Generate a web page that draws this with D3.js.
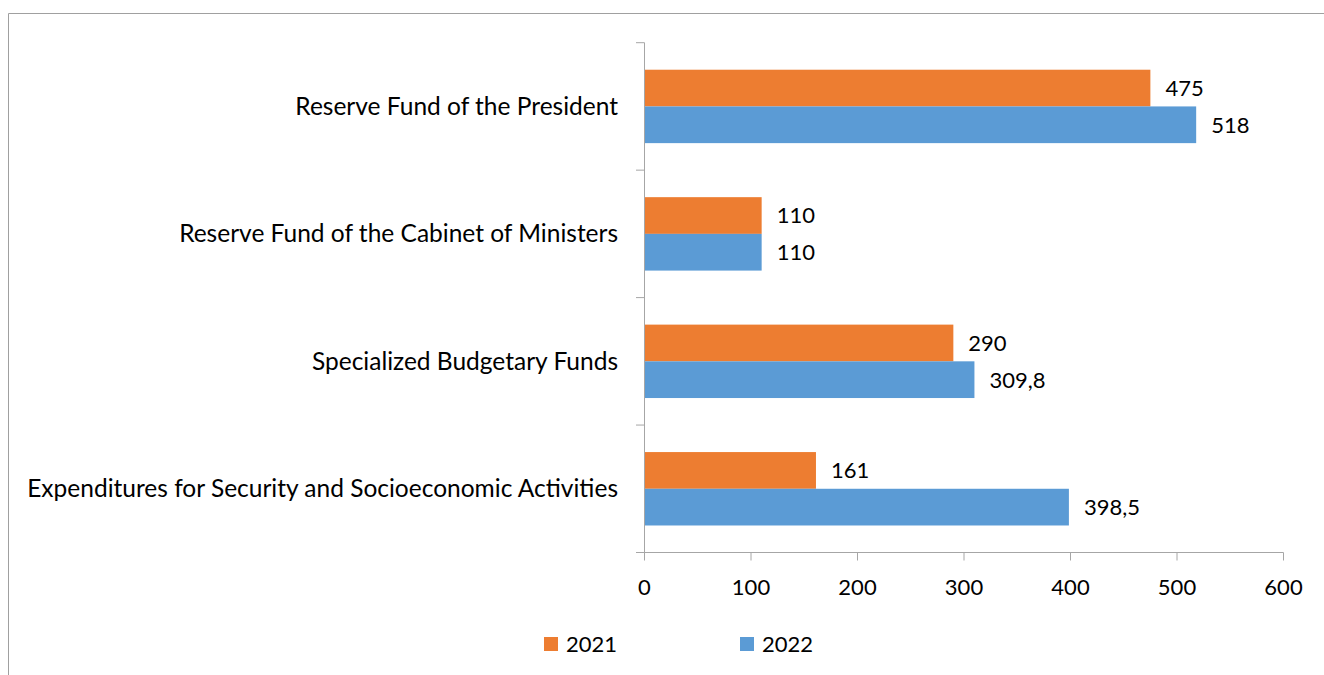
<!DOCTYPE html>
<html>
<head>
<meta charset="utf-8">
<script src="https://cdn.jsdelivr.net/npm/d3@7"></script>
<style>
  html, body { margin: 0; padding: 0; background: #fff; }
  svg { display: block; }
  text { font-family: Lato, "Open Sans", sans-serif; fill: #000; }
</style>
</head>
<body>
<svg id="chart" width="1324" height="675"></svg>
<script>
// Budget reserve items, 2021 vs 2022
const categories = [
  "Reserve Fund of the President",
  "Reserve Fund of the Cabinet of Ministers",
  "Specialized Budgetary Funds",
  "Expenditures for Security and Socioeconomic Activities"
];
const seriesNames = ["2021", "2022"];
const values2021 = [475, 110, 290, 161];
const values2022 = [518, 110, 309.8, 398.5];
const xTicks = [0, 100, 200, 300, 400, 500, 600];
const colors = { "2021": "#ED7D31", "2022": "#5B9BD5" };

const rows = categories.map((c, i) => ({
  category: c,
  values: [
    { series: "2021", value: values2021[i] },
    { series: "2022", value: values2022[i] }
  ]
}));

const svg = d3.select("#chart");
const numSize = 22;
const labelSize = 24.5;
const axisColor = "#a6a6a6";

const locale = d3.formatLocale({ decimal: ",", thousands: " ", grouping: [3], currency: ["", ""] });
const fmt = locale.format("~f");

// Outer frame (top and left edges visible)
svg.append("line").attr("x1", 8.5).attr("x2", 1324).attr("y1", 13.5).attr("y2", 13.5)
  .attr("stroke", "#a0a0a0").attr("stroke-width", 1);
svg.append("line").attr("x1", 8.5).attr("x2", 8.5).attr("y1", 13.5).attr("y2", 675)
  .attr("stroke", "#a0a0a0").attr("stroke-width", 1);

const plot = { left: 644.5, right: 1283.5, top: 42.7, bottom: 552.5 };

const x = d3.scaleLinear().domain([0, 600]).range([plot.left, plot.right]);
const y = d3.scaleBand().domain(categories).range([plot.top, plot.bottom]).padding(0);
const ySub = d3.scaleBand().domain(seriesNames).range([0, y.bandwidth()])
  .paddingInner(0).paddingOuter(0.736);

// Bars
const groups = svg.append("g").selectAll("g").data(rows).join("g")
  .attr("transform", d => `translate(0,${y(d.category)})`);

groups.selectAll("rect").data(d => d.values).join("rect")
  .attr("x", x(0))
  .attr("y", d => ySub(d.series))
  .attr("width", d => x(d.value) - x(0))
  .attr("height", ySub.bandwidth())
  .attr("fill", d => colors[d.series]);

// Value labels
groups.selectAll("text.val").data(d => d.values).join("text")
  .attr("class", "val")
  .attr("x", d => x(d.value) + 15)
  .attr("y", d => ySub(d.series) + ySub.bandwidth() / 2)
  .attr("dy", "0.36em")
  .attr("font-size", numSize)
  .text(d => fmt(d.value));

// Horizontal value axis
const xAxis = svg.append("g").attr("transform", `translate(0,${plot.bottom})`);
xAxis.append("line").attr("x1", plot.left - 8.5).attr("x2", plot.right)
  .attr("y1", 0).attr("y2", 0).attr("stroke", axisColor);
xAxis.selectAll("line.tick").data(xTicks).join("line").attr("class", "tick")
  .attr("x1", d => x(d)).attr("x2", d => x(d)).attr("y1", 0).attr("y2", 8)
  .attr("stroke", axisColor);
xAxis.selectAll("text").data(xTicks).join("text")
  .attr("x", d => x(d)).attr("y", 42)
  .attr("text-anchor", "middle")
  .attr("font-size", numSize)
  .text(d => d);

// Vertical category axis
const yAxis = svg.append("g");
yAxis.append("line").attr("x1", plot.left).attr("x2", plot.left)
  .attr("y1", plot.top).attr("y2", plot.bottom).attr("stroke", axisColor);
const boundaries = categories.map(c => y(c)).concat([plot.bottom]);
yAxis.selectAll("line.tick").data(boundaries).join("line").attr("class", "tick")
  .attr("x1", plot.left - 8.5).attr("x2", plot.left).attr("y1", d => d).attr("y2", d => d)
  .attr("stroke", axisColor);
yAxis.selectAll("text").data(categories).join("text")
  .attr("x", 618)
  .attr("y", d => y(d) + y.bandwidth() / 2)
  .attr("dy", "0.34em")
  .attr("text-anchor", "end")
  .attr("font-size", labelSize)
  .text(d => d);

// Legend
const legendX = { "2021": 544, "2022": 740 };
const legend = svg.append("g").selectAll("g").data(seriesNames).join("g")
  .attr("transform", d => `translate(${legendX[d]},637)`);
legend.append("rect").attr("width", 14).attr("height", 14).attr("fill", d => colors[d]);
legend.append("text").attr("x", 22).attr("y", 7).attr("dy", "0.36em")
  .attr("font-size", numSize).text(d => d);
</script>
</body>
</html>
